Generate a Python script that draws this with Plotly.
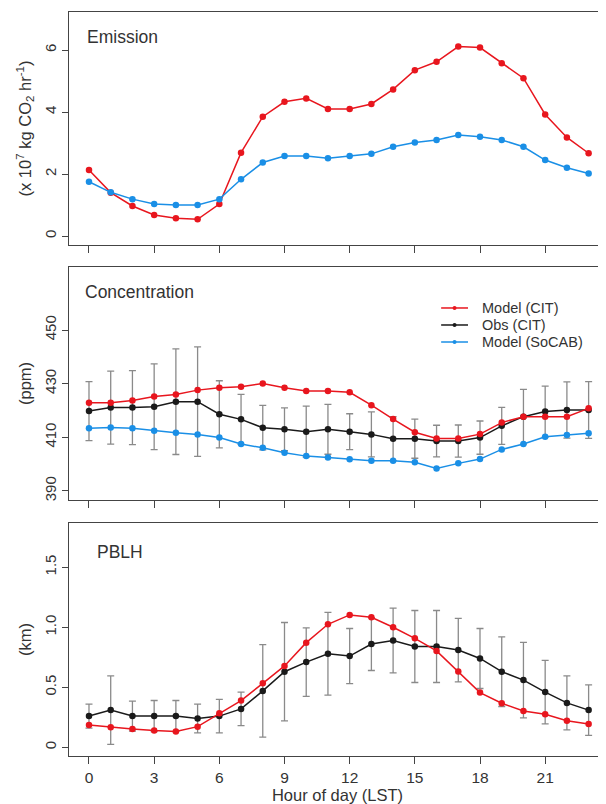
import plotly.graph_objects as go
from plotly.subplots import make_subplots

hours = list(range(24))

# Emission (x 10^7 kg CO2 / hr)
emis_model_cit = [2.13, 1.40, 0.97, 0.68, 0.57, 0.54, 1.03, 2.69, 3.85, 4.33, 4.44, 4.10,
                  4.10, 4.26, 4.73, 5.35, 5.62, 6.11, 6.08, 5.57, 5.09, 3.92, 3.18, 2.67]
emis_model_socab = [1.75, 1.41, 1.19, 1.03, 1.00, 1.00, 1.19, 1.83, 2.37, 2.58, 2.58, 2.51,
                    2.58, 2.65, 2.88, 3.02, 3.10, 3.26, 3.20, 3.10, 2.88, 2.45, 2.20, 2.02]

# Concentration (ppm)
conc_model_cit = [422.9, 422.9, 423.7, 425.2, 426.0, 427.6, 428.5, 428.9, 430.1, 428.5, 427.3, 427.3,
                  426.8, 422.0, 416.8, 411.9, 409.6, 409.6, 411.2, 415.5, 417.7, 417.7, 417.7, 420.8]
conc_obs_cit = [419.8, 421.1, 421.1, 421.4, 423.3, 423.3, 418.6, 416.7, 413.6, 413.0, 412.1, 413.0,
                412.1, 411.1, 409.5, 409.5, 408.6, 408.6, 409.9, 414.3, 417.7, 419.6, 420.2, 420.2]
conc_obs_sd = [11.0, 13.6, 13.8, 16.0, 19.7, 20.4, 12.5, 9.3, 8.3, 8.0, 9.5, 9.3,
               6.7, 8.4, 8.2, 7.3, 5.9, 6.0, 6.2, 6.9, 10.2, 9.5, 10.5, 10.6]
conc_model_socab = [413.4, 413.7, 413.4, 412.5, 411.7, 411.1, 409.9, 407.5, 406.1, 404.3, 403.0, 402.5,
                    401.8, 401.3, 401.3, 400.7, 398.4, 400.3, 401.9, 405.5, 407.5, 410.2, 410.9, 411.5]

# PBLH (km)
pblh_model_cit = [0.186, 0.167, 0.153, 0.139, 0.131, 0.172, 0.283, 0.389, 0.533, 0.678, 0.872, 1.025,
                  1.103, 1.083, 1.000, 0.908, 0.803, 0.631, 0.456, 0.367, 0.303, 0.275, 0.222, 0.194]
pblh_obs_cit = [0.26, 0.31, 0.26, 0.26, 0.26, 0.24, 0.26, 0.32, 0.47, 0.63, 0.71, 0.78,
                0.76, 0.86, 0.89, 0.84, 0.84, 0.81, 0.74, 0.63, 0.56, 0.46, 0.37, 0.31]
pblh_obs_sd = [0.10, 0.285, 0.125, 0.13, 0.13, 0.12, 0.14, 0.14, 0.385, 0.41, 0.285, 0.345,
               0.23, 0.22, 0.27, 0.30, 0.30, 0.265, 0.25, 0.29, 0.315, 0.265, 0.225, 0.21]

x_tickvals = [0, 3, 6, 9, 12, 15, 18, 21]
emis_ticks = [0, 2, 4, 6]
conc_ticks = [390, 410, 430, 450]
pblh_ticks = [0, 0.5, 1.0, 1.5]
pblh_ticktext = ["0", "0.5", "1.0", "1.5"]

legend_names = ["Model (CIT)", "Obs (CIT)", "Model (SoCAB)"]

RED = "#e8161e"
BLACK = "#1a1a1a"
BLUE = "#1a8fe6"
GREY = "#8a8a8a"
AX = "#444444"
TXT = "#333333"
FONT = "Liberation Sans, Arial, sans-serif"

fig = make_subplots(rows=3, cols=1, shared_xaxes=False, vertical_spacing=0.03)

def line(x, y, color, row, err=None):
    kw = {}
    if err is not None:
        kw["error_y"] = dict(type="data", array=err, visible=True, color=GREY, thickness=1.3, width=3.5)
    fig.add_trace(go.Scatter(x=x, y=y, mode="lines+markers",
                             line=dict(color=color, width=1.5),
                             marker=dict(color=color, size=6.5),
                             showlegend=False, **kw), row=row, col=1)

line(hours, emis_model_cit, RED, 1)
line(hours, emis_model_socab, BLUE, 1)

line(hours, conc_obs_cit, BLACK, 2, conc_obs_sd)
line(hours, conc_model_cit, RED, 2)
line(hours, conc_model_socab, BLUE, 2)

line(hours, pblh_obs_cit, BLACK, 3, pblh_obs_sd)
line(hours, pblh_model_cit, RED, 3)

doms = [[0.6868, 1.0], [0.3441, 0.6573], [0.0, 0.3132]]
yranges = [[-0.29, 7.226], [386.65, 473.5], [-0.0725, 1.869]]
ytitles = ["(x 10<sup>7</sup> kg CO<sub>2</sub> hr<sup>-1</sup>)", "(ppm)", "(km)"]
yticks = [(emis_ticks, [str(v) for v in emis_ticks]),
          (conc_ticks, [str(v) for v in conc_ticks]),
          (pblh_ticks, pblh_ticktext)]

for i in range(3):
    r = i + 1
    fig.update_xaxes(row=r, col=1, range=[-0.92, 23.80], tickvals=x_tickvals,
                     showticklabels=(r == 3), ticks="outside", ticklen=7, tickwidth=1.3,
                     tickcolor=AX, showline=True, linecolor=AX, linewidth=1.4, mirror=True,
                     showgrid=False, zeroline=False,
                     tickfont=dict(family=FONT, size=15.5, color=TXT))
    fig.update_yaxes(row=r, col=1, domain=doms[i], range=yranges[i],
                     tickvals=yticks[i][0], ticktext=yticks[i][1], tickangle=-90,
                     ticks="outside", ticklen=6, tickwidth=1.3, tickcolor=AX,
                     showline=True, linecolor=AX, linewidth=1.4, mirror=False,
                     showgrid=False, zeroline=False,
                     tickfont=dict(family=FONT, size=15, color=TXT),
                     title=dict(text=ytitles[i], font=dict(family=FONT, size=16.5, color=TXT),
                                standoff=6))

fig.update_xaxes(row=3, col=1, title=dict(text="Hour of day (LST)",
                 font=dict(family=FONT, size=16.5, color=TXT), standoff=2))

# panel labels
labels = [("Emission", "x domain", "y domain", 0.030, 0.893),
          ("Concentration", "x2 domain", "y2 domain", 0.026, 0.893),
          ("PBLH", "x3 domain", "y3 domain", 0.048, 0.876)]
for txt, xr, yr, xx, yy in labels:
    fig.add_annotation(text=txt, xref=xr, yref=yr, x=xx, y=yy, xanchor="left", yanchor="middle",
                       showarrow=False, font=dict(family=FONT, size=17.5, color=TXT))

# legend in concentration panel
leg_colors = [RED, BLACK, BLUE]
leg_y = [0.824, 0.751, 0.678]
for name, c, yy in zip(legend_names, leg_colors, leg_y):
    fig.add_shape(type="line", xref="x2 domain", yref="y2 domain", x0=0.693, x1=0.743, y0=yy, y1=yy,
                  line=dict(color=c, width=1.5))
    fig.add_shape(type="circle", xref="x2 domain", yref="y2 domain", xsizemode="pixel", ysizemode="pixel",
                  xanchor=0.718, yanchor=yy, x0=-2, x1=2, y0=-2, y1=2,
                  fillcolor=c, line=dict(color=c, width=0))
    fig.add_annotation(text=name, xref="x2 domain", yref="y2 domain", x=0.765, y=yy,
                       xanchor="left", yanchor="middle", showarrow=False,
                       font=dict(family=FONT, size=14.5, color=TXT))

# page body has an 8px margin, so the figure is shifted; compensate in size and margins
fig.update_layout(width=598, height=796, margin=dict(l=61, r=0, t=4, b=48),
                  paper_bgcolor="white", plot_bgcolor="white", showlegend=False)

fig.write_html("out.html")
